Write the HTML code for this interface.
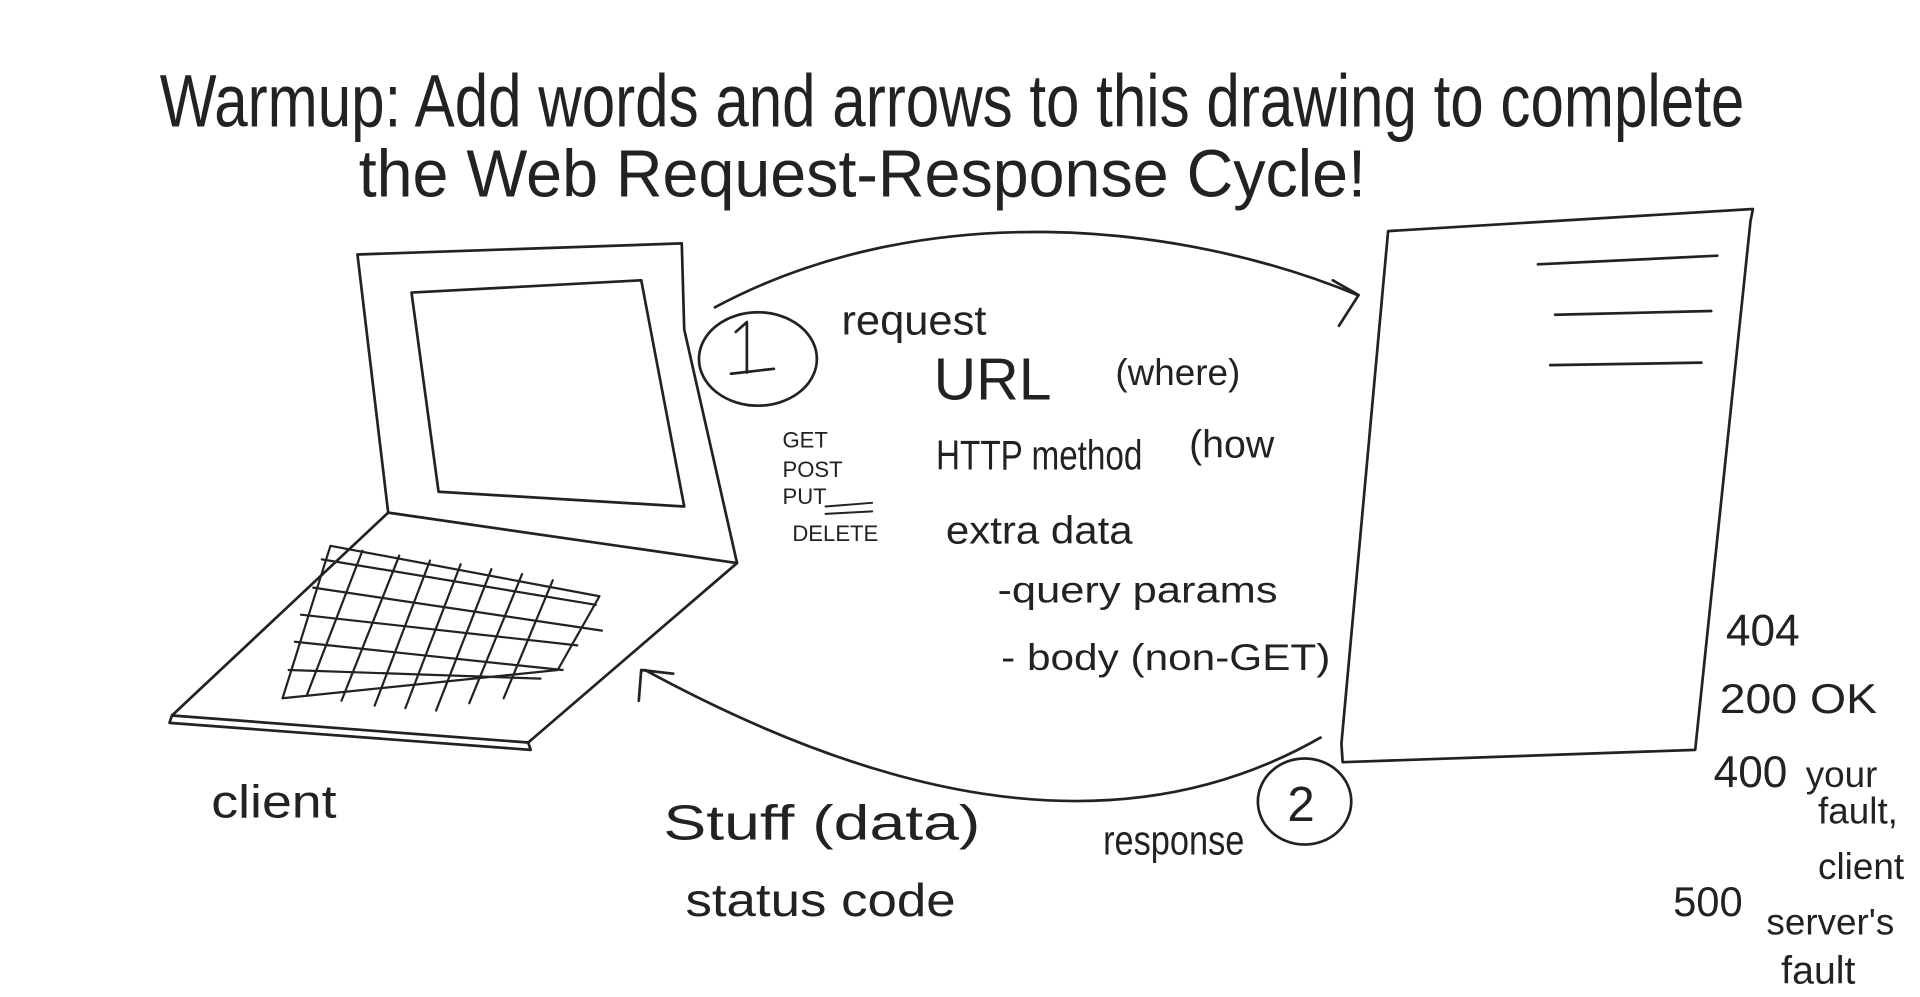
<!DOCTYPE html>
<html><head><meta charset="utf-8"><style>
html,body{margin:0;padding:0;background:#fff;width:1920px;height:997px;overflow:hidden}
svg{display:block}
text{font-family:"Liberation Sans",sans-serif;fill:#222}
</style></head><body>
<svg width="1920" height="997" viewBox="0 0 1563 811" preserveAspectRatio="none" xmlns="http://www.w3.org/2000/svg">
<g fill="none" stroke="#222" stroke-width="2.2" stroke-linecap="round" stroke-linejoin="round">
<path d="M291 207 L555 198 L557 268 L600 458 L316 417 Z"/>
<path d="M335 238 L522 228 L557 412 L357 400 Z"/>
<path d="M316 417 L140 582 L430 604 L600 458"/>
<path d="M140 582 L138 588 L432 610 L430 604"/>
<path d="M269 444 L488 485 L454 545 L230 568 Z" stroke-width="1.8"/>
<path d="M262 455 L485 492 M255 478 L490 513 M245 500 L470 525 M240 522 L458 545 M235 545 L440 552" stroke-width="1.8"/>
<path d="M295 448 L250 565 M325 452 L278 570 M350 456 L305 574 M375 459 L330 576 M400 463 L355 578 M425 467 L382 572 M450 472 L410 568" stroke-width="1.8"/>
<path d="M1130 188 L1427 170 L1425 180 L1380 610 L1093 620 L1092 605 Z"/>
<path d="M1252 215 L1398 208 M1266 256 L1393 253 M1262 297 L1385 295"/>
<path d="M582 250 C750 160 960 180 1105 240"/>
<path d="M1085 228 L1106 240 L1090 265"/>
<path d="M1075 600 C900 700 700 640 525 545"/>
<path d="M520 570 L522 545 L548 548"/>
<ellipse cx="617" cy="292" rx="48" ry="38"/>
<ellipse cx="1062" cy="652" rx="38" ry="35"/>
<path d="M599 270 L608 262 L608 303 M595 304 L630 300"/>
<path d="M672 412 L710 409 M672 418 L710 416" stroke-width="1.6"/>
</g>
<text x="130" y="103" font-size="60" textLength="1290" lengthAdjust="spacingAndGlyphs" fill="#333">Warmup: Add words and arrows to this drawing to complete</text>
<text x="292" y="160" font-size="54" textLength="820" lengthAdjust="spacingAndGlyphs" fill="#333">the Web Request-Response Cycle!</text>
<text x="1048" y="668" font-size="40">2</text>
<text x="685" y="272" font-size="34" textLength="118" lengthAdjust="spacingAndGlyphs">request</text>
<text x="760" y="325" font-size="48">URL</text>
<text x="908" y="313" font-size="30">(where)</text>
<text x="762" y="382" font-size="34" textLength="168" lengthAdjust="spacingAndGlyphs">HTTP method</text>
<text x="968" y="372" font-size="32">(how</text>
<text x="637" y="364" font-size="18">GET</text>
<text x="637" y="388" font-size="18">POST</text>
<text x="637" y="410" font-size="18">PUT</text>
<text x="645" y="440" font-size="18">DELETE</text>
<text x="770" y="442" font-size="32" textLength="152" lengthAdjust="spacingAndGlyphs">extra data</text>
<text x="812" y="490" font-size="30" textLength="228" lengthAdjust="spacingAndGlyphs">-query params</text>
<text x="815" y="545" font-size="30" textLength="268" lengthAdjust="spacingAndGlyphs">- body (non-GET)</text>
<text x="172" y="665" font-size="38" textLength="102" lengthAdjust="spacingAndGlyphs">client</text>
<text x="540" y="683" font-size="40" textLength="258" lengthAdjust="spacingAndGlyphs">Stuff (data)</text>
<text x="558" y="745" font-size="38" textLength="220" lengthAdjust="spacingAndGlyphs">status code</text>
<text x="898" y="695" font-size="34" textLength="115" lengthAdjust="spacingAndGlyphs">response</text>
<text x="1405" y="525" font-size="36">404</text>
<text x="1400" y="580" font-size="34" textLength="128" lengthAdjust="spacingAndGlyphs">200 OK</text>
<text x="1395" y="640" font-size="36">400</text>
<text x="1470" y="640" font-size="30">your</text>
<text x="1480" y="670" font-size="30">fault,</text>
<text x="1480" y="715" font-size="30">client</text>
<text x="1362" y="745" font-size="34">500</text>
<text x="1438" y="760" font-size="30">server's</text>
<text x="1450" y="800" font-size="32">fault</text>
</svg>
</body></html>
